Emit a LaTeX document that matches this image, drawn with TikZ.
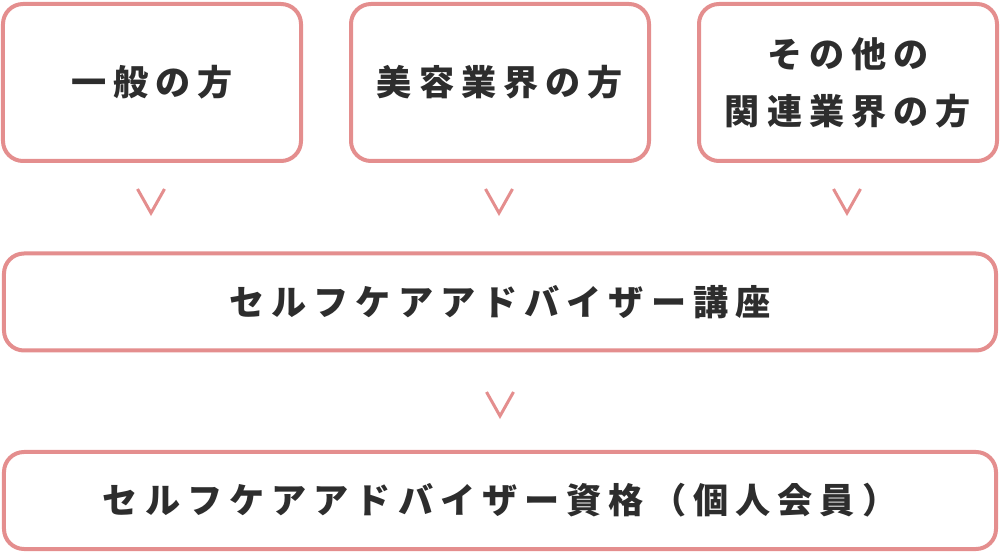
\documentclass[tikz,border=0pt]{standalone}
\usepackage{fontspec}
\newfontfamily\jpfont[LetterSpace=20]{Noto Sans CJK JP}
\usepackage{tikz}
\usetikzlibrary{arrows.meta}
\definecolor{rosa}{RGB}{228,142,142}
\definecolor{testo}{RGB}{45,45,45}

\begin{document}
\begin{tikzpicture}[
	box/.style = {draw=rosa, line width=0.08cm, rounded corners=0.4cm, text=testo, align=center,
		font=\jpfont\bfseries\fontsize{20}{32.4}\selectfont},
	piccolo/.style = {box, minimum width=5.96cm, minimum height=3.14cm},
	largo/.style = {box, minimum width=19.84cm, minimum height=1.94cm},
	chev/.style = {draw=rosa, line width=0.06cm}
	]
	%\draw[help lines] (0,0) grid (20,11);
	\useasboundingbox (0,0) rectangle (20,11.08);
	\node[piccolo] (ippan) at (3.04,9.43) {一般の方};
	\node[piccolo] (biyou) at (10,9.43) {美容業界の方};
	\node[piccolo] (kanren) at (16.96,9.43) {その他の\\関連業界の方};
	\node[largo] (koza) at (10,5.04) {セルフケアアドバイザー講座};
	\node[largo] (shikaku) at (10,1.07) {セルフケアアドバイザー資格（個人会員）};
	% frecce a V
	\coordinate (v1) at (3.02,7.06);
	\coordinate (v2) at (9.98,7.06);
	\coordinate (v3) at (16.94,7.06);
	\coordinate (v4) at (10,3.0);
	\foreach \v in {v1,v2,v3,v4}
		\draw[chev] (\v) ++(-0.27,0.24) -- ++(0.27,-0.48) -- ++(0.27,0.48);
\end{tikzpicture}
\end{document}
